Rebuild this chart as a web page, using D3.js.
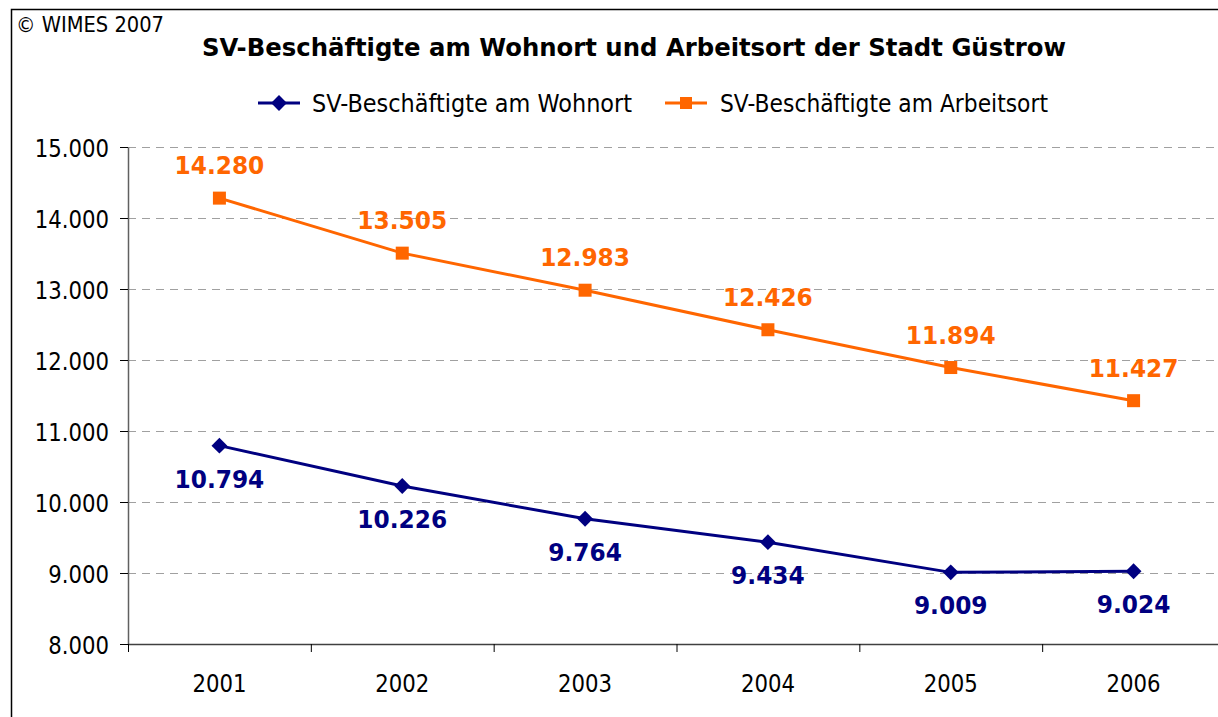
<!DOCTYPE html>
<html>
<head>
<meta charset="utf-8">
<script src="https://cdn.jsdelivr.net/npm/d3@7"></script>
<style>
  body { margin: 0; background: #fff; }
  svg text { font-family: "DejaVu Sans", Verdana, sans-serif; }
</style>
</head>
<body>
<div id="chart"></div>
<script>
// data
var years = ["2001", "2002", "2003", "2004", "2005", "2006"];
var wohnort = [10794, 10226, 9764, 9434, 9009, 9024];
var arbeitsort = [14280, 13505, 12983, 12426, 11894, 11427];
var yTicks = [8000, 9000, 10000, 11000, 12000, 13000, 14000, 15000];
var seriesNames = ["SV-Beschäftigte am Wohnort", "SV-Beschäftigte am Arbeitsort"];

var totalWidth = 1218, totalHeight = 717;
var margin = {top: 147, left: 128, right: -7, bottom: 73};
var width = totalWidth - margin.left - margin.right,
    height = totalHeight - margin.top - margin.bottom;

var blue = "#000080", orange = "#ff6600";
var fmt = function(v) { return d3.format(",")(v).replace(/,/g, "."); };

// squeeze text to look like the narrower original font
function squeeze(sel, f) {
  sel.each(function() {
    var l = this.getComputedTextLength();
    d3.select(this).attr("textLength", l * f).attr("lengthAdjust", "spacingAndGlyphs");
  });
}

var root = d3.select("#chart").append("svg")
    .attr("width", totalWidth)
    .attr("height", totalHeight);

// outer chart frame
root.append("rect")
    .attr("x", 11.5).attr("y", 9.5)
    .attr("width", 1230).attr("height", 730)
    .attr("fill", "none").attr("stroke", "#000").attr("stroke-width", 1.5);

root.append("text")
    .attr("x", 16).attr("y", 32)
    .style("font-size", "21px")
    .text("© WIMES 2007")
    .attr("textLength", 148).attr("lengthAdjust", "spacingAndGlyphs");

root.append("text")
    .attr("x", 634).attr("y", 56)
    .attr("text-anchor", "middle")
    .style("font-size", "25px").style("font-weight", "bold")
    .text("SV-Beschäftigte am Wohnort und Arbeitsort der Stadt Güstrow")
    .attr("textLength", 864).attr("lengthAdjust", "spacingAndGlyphs");

var svg = root.append("g")
    .attr("transform", "translate(" + margin.left + "," + margin.top + ")");

var x = d3.scaleBand().domain(years).range([0, width]);
var y = d3.scaleLinear().domain([8000, 15000]).range([height, 0]);

// gridlines
svg.selectAll("line.grid")
    .data(yTicks.slice(1))
    .enter().append("line")
    .attr("class", "grid")
    .attr("x1", 0).attr("x2", width)
    .attr("y1", function(d) { return y(d) + 0.5; })
    .attr("y2", function(d) { return y(d) + 0.5; })
    .attr("stroke", "#a0a0a0")
    .attr("stroke-dasharray", "8,6");

// y axis
var yAxis = svg.append("g")
    .call(d3.axisLeft(y).tickValues(yTicks).tickFormat(fmt).tickSize(8).tickSizeOuter(0).tickPadding(11));
yAxis.select(".domain").attr("stroke", "#606060").attr("stroke-width", 1.5);
yAxis.selectAll(".tick line").attr("stroke", "#000");
yAxis.selectAll("text")
    .attr("dy", "0.36em")
    .style("font-size", "25px").style("font-family", "DejaVu Sans").attr("fill", "#000");
squeeze(yAxis.selectAll("text"), 0.85);

// x axis with ticks between categories
var xAxis = svg.append("g")
    .attr("transform", "translate(0," + height + ")");
xAxis.append("line")
    .attr("x1", 0).attr("x2", width)
    .attr("y1", 0.5).attr("y2", 0.5)
    .attr("stroke", "#404040").attr("stroke-width", 1.5);
xAxis.selectAll("line.tk")
    .data(d3.range(years.length + 1))
    .enter().append("line")
    .attr("class", "tk")
    .attr("x1", function(i) { return i * x.bandwidth() + 0.5; })
    .attr("x2", function(i) { return i * x.bandwidth() + 0.5; })
    .attr("y1", 0).attr("y2", 8)
    .attr("stroke", "#000");
var xl = xAxis.selectAll("text")
    .data(years)
    .enter().append("text")
    .attr("x", function(d) { return x(d) + x.bandwidth() / 2; })
    .attr("y", 48)
    .attr("text-anchor", "middle")
    .style("font-size", "25px")
    .text(function(d) { return d; });
squeeze(xl, 0.85);

// lines
var line = d3.line()
    .x(function(d, i) { return x(years[i]) + x.bandwidth() / 2; })
    .y(function(d) { return y(d); });

svg.append("path").datum(arbeitsort)
    .attr("d", line).attr("fill", "none")
    .attr("stroke", orange).attr("stroke-width", 3);
svg.append("path").datum(wohnort)
    .attr("d", line).attr("fill", "none")
    .attr("stroke", blue).attr("stroke-width", 3);

// markers
svg.selectAll("rect.sq")
    .data(arbeitsort)
    .enter().append("rect")
    .attr("class", "sq")
    .attr("x", function(d, i) { return x(years[i]) + x.bandwidth() / 2 - 6.5; })
    .attr("y", function(d) { return y(d) - 6.5; })
    .attr("width", 13).attr("height", 13)
    .attr("fill", orange);

var diamond = d3.symbol().type(d3.symbolDiamond2).size(160);
svg.selectAll("path.dm")
    .data(wohnort)
    .enter().append("path")
    .attr("class", "dm")
    .attr("d", diamond)
    .attr("transform", function(d, i) {
      return "translate(" + (x(years[i]) + x.bandwidth() / 2) + "," + y(d) + ")";
    })
    .attr("fill", blue);

// value labels
var lo = svg.selectAll("text.lo")
    .data(arbeitsort)
    .enter().append("text")
    .attr("class", "lo")
    .attr("x", function(d, i) { return x(years[i]) + x.bandwidth() / 2; })
    .attr("y", function(d) { return y(d) - 24; })
    .attr("text-anchor", "middle")
    .style("font-size", "24px").style("font-weight", "bold")
    .attr("fill", orange)
    .text(fmt);
squeeze(lo, 0.97);
var lb = svg.selectAll("text.lb")
    .data(wohnort)
    .enter().append("text")
    .attr("class", "lb")
    .attr("x", function(d, i) { return x(years[i]) + x.bandwidth() / 2; })
    .attr("y", function(d) { return y(d) + 42; })
    .attr("text-anchor", "middle")
    .style("font-size", "24px").style("font-weight", "bold")
    .attr("fill", blue)
    .text(fmt);
squeeze(lb, 0.97);

// legend
var legend = root.append("g").attr("transform", "translate(0,103)");
var items = [
  {name: seriesNames[0], color: blue, x0: 258, tx: 312, w: 320, mark: "d"},
  {name: seriesNames[1], color: orange, x0: 665, tx: 720, w: 328, mark: "s"}
];
items.forEach(function(it) {
  legend.append("line")
      .attr("x1", it.x0).attr("x2", it.x0 + 42)
      .attr("y1", 0).attr("y2", 0)
      .attr("stroke", it.color).attr("stroke-width", 3);
  if (it.mark == "d") {
    legend.append("path")
        .attr("d", diamond)
        .attr("transform", "translate(" + (it.x0 + 21) + ",0)")
        .attr("fill", it.color);
  } else {
    legend.append("rect")
        .attr("x", it.x0 + 21 - 6).attr("y", -6)
        .attr("width", 12).attr("height", 12)
        .attr("fill", it.color);
  }
  legend.append("text")
      .attr("x", it.tx).attr("y", 9)
      .style("font-size", "24px")
      .text(it.name)
      .attr("textLength", it.w).attr("lengthAdjust", "spacingAndGlyphs");
});
</script>
</body>
</html>
